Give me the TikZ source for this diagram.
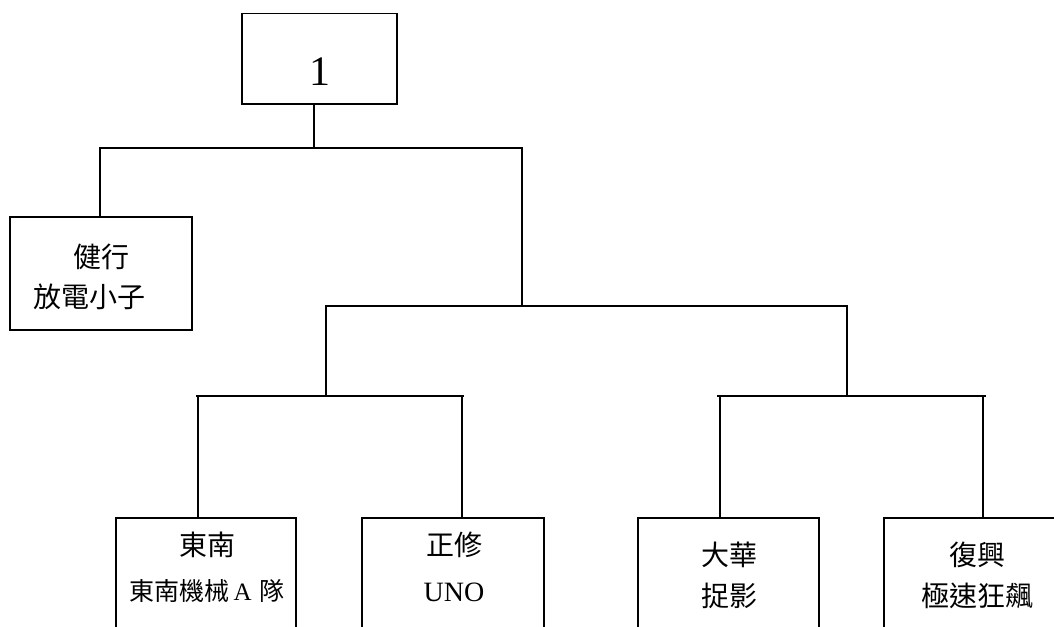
\documentclass[tikz,border=0pt]{standalone}
\usepackage{fontspec}
\setmainfont{Liberation Serif}
\newfontfamily\cjk{Noto Sans CJK TC}
\begin{document}
\begin{tikzpicture}[x=1pt,y=-1pt,
  lnk/.style={draw=black, line width=1.4pt},
  box/.style={draw=black, line width=1.5pt, inner sep=0pt, anchor=north west, fill=none},
  big/.style={inner sep=0pt, font=\cjk\fontsize{28}{28}\selectfont},
  small/.style={inner sep=0pt, font=\cjk\fontsize{25}{25}\selectfont}]
\useasboundingbox (0,0) rectangle (1054,626);
\fill[white] (0,0) rectangle (1054,626);
\clip (0,0) rectangle (1054,626);
% boxes
\node[box, minimum width=155pt, minimum height=90pt] (top) at (241,13) {};
\node[box, minimum width=182pt, minimum height=113pt] (jx) at (9,216) {};
\node[box, minimum width=180pt, minimum height=150pt] (dn) at (115,517) {};
\node[box, minimum width=182pt, minimum height=150pt] (zx) at (361,517) {};
\node[box, minimum width=181pt, minimum height=150pt] (dh) at (637,517) {};
\node[box, minimum width=190pt, minimum height=150pt] (fx) at (883,517) {};
% texts
\node[inner sep=0pt, font=\fontsize{42}{42}\selectfont] (t1) at (320,72) {1};
\node[big] (jx1) at (101,257) {健行};
\node[big] (jx2) at (89,297) {放電小子};
\node[big] (dn1) at (207,545) {東南};
\node[small] (dn2) at (207,591) {東南機械\,{\rmfamily A}\hspace{8pt}隊};
\node[big] (zx1) at (454,545) {正修};
\node[inner sep=0pt, font=\fontsize{28}{28}\selectfont] (zx2) at (454,592) {UNO};
\node[big] (dh1) at (729,555) {大華};
\node[big] (dh2) at (729,596) {捉影};
\node[big] (fx1) at (977,555) {復興};
\node[big] (fx2) at (977,596) {極速狂飆};
% junctions
\coordinate (a) at (314,148);
\coordinate (aL) at (100,148);
\coordinate (aR) at (522,148);
\coordinate (b) at (522,306);
\coordinate (bL) at (326,306);
\coordinate (bR) at (847,306);
\coordinate (cL) at (326,396);
\coordinate (cR) at (847,396);
\coordinate (cL1) at (196,396);
\coordinate (cL2) at (464,396);
\coordinate (cR1) at (717,396);
\coordinate (cR2) at (986,396);
% connectors
\draw[lnk] (a |- top.south) -- (a);
\draw[lnk] (aL |- jx.north) -- (aL) -- (aR) -- (b);
\draw[lnk] (cL) -- (bL) -- (bR) -- (cR);
\draw[lnk] (cL1) -- (cL2);
\draw[lnk] (cR1) -- (cR2);
\draw[lnk] (198,396) -- (198,517 |- dn.north);
\draw[lnk] (462,396) -- (462,517 |- zx.north);
\draw[lnk] (720,396) -- (720,517 |- dh.north);
\draw[lnk] (983,396) -- (983,517 |- fx.north);
\end{tikzpicture}
\end{document}
